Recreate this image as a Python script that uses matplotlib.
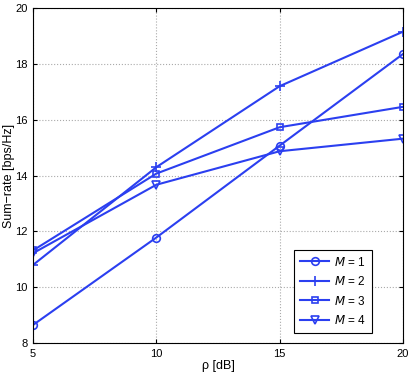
import matplotlib
matplotlib.use('Agg')
import matplotlib.pyplot as plt

rho = [5, 10, 15, 20]
m1 = [8.65, 11.78, 15.07, 18.35]
m2 = [10.8, 14.3, 17.2, 19.15]
m3 = [11.32, 14.07, 15.73, 16.46]
m4 = [11.22, 13.67, 14.87, 15.32]

plt.rcParams['font.family'] = ['Liberation Sans', 'DejaVu Sans']
color = '#2b3ff0'

fig = plt.figure(figsize=(4.09, 3.82), dpi=100)
ax = fig.add_axes([0.081, 0.102, 0.904, 0.877])

ax.plot(rho, m1, marker='o', color=color, lw=1.5, ms=5.5, mfc='none', mew=1.2, label='$M$ = 1')
ax.plot(rho, m2, marker='+', color=color, lw=1.5, ms=6.5, mew=1.2, label='$M$ = 2')
ax.plot(rho, m3, marker='s', color=color, lw=1.5, ms=4.5, mfc='none', mew=1.2, label='$M$ = 3')
ax.plot(rho, m4, marker='v', color=color, lw=1.5, ms=5.5, mfc='none', mew=1.2, label='$M$ = 4')

ax.set_xlim(5, 20)
ax.set_ylim(8, 20)
ax.set_xticks([5, 10, 15, 20])
ax.set_yticks([8, 10, 12, 14, 16, 18, 20])
ax.grid(True, linestyle=':', color='#aaaaaa', lw=0.8)
ax.tick_params(direction='in', labelsize=8, top=True, right=True, length=3, pad=4)
for s in ax.spines.values():
    s.set_linewidth(0.8)

ax.set_xlabel('ρ [dB]', fontsize=9, labelpad=1)
ax.set_ylabel('Sum\u2212rate [bps/Hz]', fontsize=9)
ax.yaxis.set_label_coords(-0.05, 0.5)

leg = ax.legend(loc='lower right', bbox_to_anchor=(0.916, 0.03), fontsize=8.5, fancybox=False,
                edgecolor='black', framealpha=1, handlelength=2.5, borderpad=0.5,
                labelspacing=0.55, handletextpad=0.4, borderaxespad=0)
leg.get_frame().set_linewidth(0.8)

fig.savefig('out.png', dpi=100)
